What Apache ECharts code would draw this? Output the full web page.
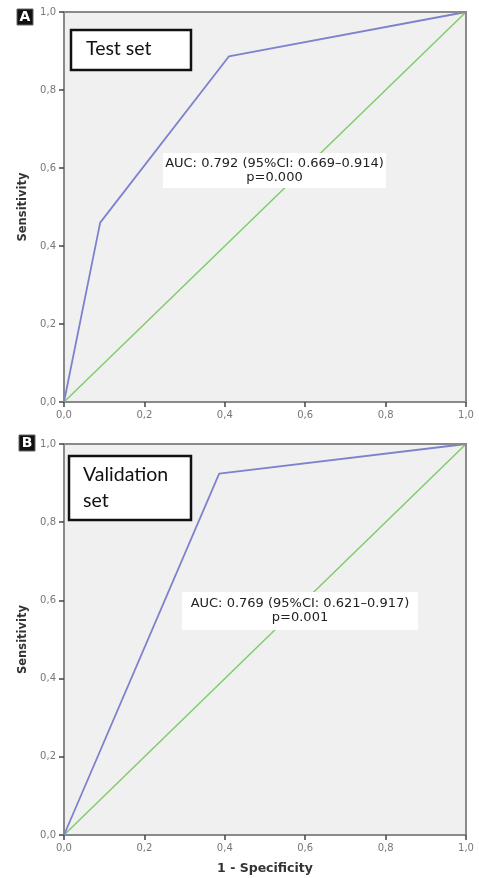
<!DOCTYPE html>
<html>
<head>
<meta charset="utf-8">
<style>
  html, body { margin: 0; padding: 0; background: #ffffff; }
  #chart { width: 479px; height: 878px; }
</style>
<script src="https://cdn.jsdelivr.net/npm/echarts@6/dist/echarts.min.js"></script>
</head>
<body>
<div id="chart"></div>
<script>
// ROC curve for the test set: [1 - specificity, sensitivity]
const testRoc = [[0, 0], [0.09, 0.46], [0.41, 0.886], [1, 1]];
// ROC curve for the validation set
const validationRoc = [[0, 0], [0.386, 0.924], [1, 1]];
// chance (reference) line
const refLine = [[0, 0], [1, 1]];

const panelLetters = ['A', 'B'];
const panelTitles = ['Test set', 'Validation\nset'];
const aucTexts = [
  'AUC: 0.792 (95%CI: 0.669\u20130.914)\np=0.000',
  'AUC: 0.769 (95%CI: 0.621\u20130.917)\np=0.001'
];

const rocColor = '#7d82cc';
const refColor = '#7fcc6c';
const axisColor = '#8a8a8a';

const chart = echarts.init(document.getElementById('chart'), null, { renderer: 'canvas' });

const grids = [
  { left: 64, top: 12, width: 402, height: 390 },
  { left: 64, top: 444, width: 402, height: 391 }
];

function fmt(v) { return v.toFixed(1).replace('.', ','); }

function axisCommon() {
  return {
    type: 'value', min: 0, max: 1, interval: 0.2,
    axisLine: { show: true, onZero: false, lineStyle: { color: axisColor, width: 2 } },
    axisTick: { show: true, inside: false, length: 5, lineStyle: { color: '#444', width: 1.5 } },
    axisLabel: { color: '#777', fontSize: 10, fontFamily: 'DejaVu Sans', formatter: fmt, margin: 8 },
    splitLine: { show: false }
  };
}

const xAxes = [], yAxes = [], series = [];
grids.forEach((g, i) => {
  xAxes.push(Object.assign(axisCommon(), {
    gridIndex: i,
    name: i === 1 ? '1 - Specificity' : '',
    nameLocation: 'middle', nameGap: 27,
    nameTextStyle: { color: '#333', fontSize: 12.5, fontWeight: 'bold', fontFamily: 'DejaVu Sans' }
  }));
  yAxes.push(Object.assign(axisCommon(), {
    gridIndex: i,
    name: 'Sensitivity', nameLocation: 'middle', nameGap: 31, nameRotate: 90,
    nameTextStyle: { color: '#333', fontSize: 11.5, fontWeight: 'bold', fontFamily: 'DejaVu Sans' }
  }));
});

const rocSets = [testRoc, validationRoc];
rocSets.forEach((roc, i) => {
  series.push({
    type: 'line', xAxisIndex: i, yAxisIndex: i, data: refLine,
    symbol: 'none', lineStyle: { color: refColor, width: 1.5 }, silent: true, z: 2
  });
  series.push({
    type: 'line', xAxisIndex: i, yAxisIndex: i, data: roc,
    symbol: 'none', lineStyle: { color: rocColor, width: 1.8 }, silent: true, z: 3
  });
});

// annotation boxes and panel letters
const graphics = [];
const letterBoxes = [{ x: 17, y: 9 }, { x: 19, y: 435 }];
const titleBoxes = [
  { x: 71, y: 30, w: 120, h: 40, tx: 86, ty: 49 },
  { x: 69, y: 456, w: 122, h: 64, tx: 83, ty: 488 }
];
const aucBoxes = [
  { x: 163, y: 153, w: 223, h: 35 },
  { x: 182, y: 592, w: 236, h: 38 }
];
panelLetters.forEach((L, i) => {
  const b = letterBoxes[i];
  graphics.push({ type: 'rect', shape: { x: b.x, y: b.y, width: 16, height: 16 },
    style: { fill: '#111', stroke: '#666', lineWidth: 1 }, z: 10 });
  graphics.push({ type: 'text', x: b.x + 8, y: b.y + 8.5,
    style: { text: L, fill: '#fff', font: 'bold 14px "DejaVu Sans"', textAlign: 'center', textVerticalAlign: 'middle' }, z: 11 });

  const t = titleBoxes[i];
  graphics.push({ type: 'rect', shape: { x: t.x, y: t.y, width: t.w, height: t.h },
    style: { fill: '#fff', stroke: '#111', lineWidth: 2.5 }, z: 10 });
  graphics.push({ type: 'text', x: t.tx, y: t.ty,
    style: { text: panelTitles[i], fill: '#111', font: '19.5px Lato', lineHeight: 26,
      textAlign: 'left', textVerticalAlign: 'middle' }, z: 11 });

  const a = aucBoxes[i];
  graphics.push({ type: 'rect', shape: { x: a.x, y: a.y, width: a.w, height: a.h },
    style: { fill: '#fff', stroke: null }, z: 10 });
  graphics.push({ type: 'text', x: a.x + a.w / 2, y: a.y + a.h / 2,
    style: { text: aucTexts[i], fill: '#222', font: '13px "DejaVu Sans"', lineHeight: 14,
      textAlign: 'center', textVerticalAlign: 'middle' }, z: 11 });
});

// right and top frame of each plot area
grids.forEach((g) => {
  graphics.push({ type: 'polyline', shape: { points: [[g.left, g.top], [g.left + g.width, g.top], [g.left + g.width, g.top + g.height]] },
    style: { stroke: axisColor, lineWidth: 2, fill: null }, z: 5 });
});

chart.setOption({
  animation: false,
  backgroundColor: '#ffffff',
  grid: grids.map(g => Object.assign({ show: true, backgroundColor: '#f0f0f0', borderWidth: 0 }, g)),
  xAxis: xAxes,
  yAxis: yAxes,
  series: series,
  graphic: graphics
});
</script>
</body>
</html>
